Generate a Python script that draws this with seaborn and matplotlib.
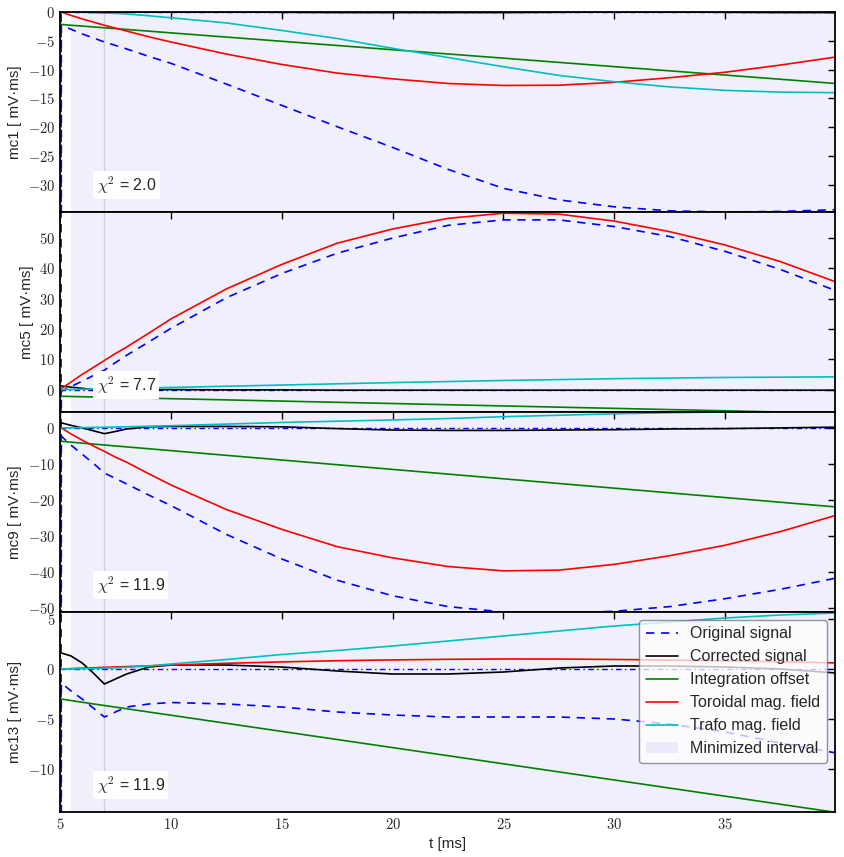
import matplotlib
matplotlib.use("Agg")
import numpy as np
import pandas as pd
import seaborn as sns
import matplotlib.pyplot as plt
import matplotlib.transforms as mtransforms
from matplotlib.patches import Patch
from matplotlib.lines import Line2D
from matplotlib.ticker import FuncFormatter, MultipleLocator

# time axis [ms]
t = [5.06, 5.5, 6, 6.5, 7, 7.5, 8, 9, 10, 12.5, 15, 17.5, 20, 22.5, 25, 27.5, 30, 32.5, 35, 37.5, 40]
# raw signal spike right at the start of the record
t_spike = [5.045, 5.05]
spike = [1000, -1000]

channels = ["mc1", "mc5", "mc9", "mc13"]
chi2 = [2.0, 7.7, 11.9, 11.9]

mc1_original = [-2.3, -3.0, -3.8, -4.5, -5.2, -5.8, -6.4, -7.7, -8.9, -12.5, -16.2, -19.9, -23.5, -27.3, -30.6, -32.6, -33.8, -34.5, -34.7, -34.6, -34.3]
mc1_corrected = [0.1, 0.05, 0, -0.05, -0.1, -0.1, -0.05, 0, 0, 0, -0.05, -0.1, -0.1, -0.1, -0.1, -0.05, 0, 0, -0.05, -0.1, -0.1]
mc1_offset = [-2.16, -2.30, -2.44, -2.59, -2.74, -2.88, -3.03, -3.32, -3.62, -4.35, -5.08, -5.81, -6.55, -7.28, -8.01, -8.74, -9.48, -10.21, -10.94, -11.67, -12.41]
mc1_toroidal = [0, -0.6, -1.2, -1.75, -2.3, -2.8, -3.3, -4.3, -5.2, -7.3, -9.1, -10.6, -11.6, -12.4, -12.75, -12.7, -12.2, -11.4, -10.45, -9.2, -7.8]
mc1_trafo = [0, -0.02, -0.05, -0.1, -0.15, -0.25, -0.35, -0.65, -1.0, -1.9, -3.2, -4.6, -6.3, -7.9, -9.5, -11.0, -12.1, -13.0, -13.6, -13.9, -14.0]

mc5_original = [-0.5, 1.0, 2.8, 4.6, 6.4, 8.9, 11.3, 15.7, 20.2, 30.3, 38.3, 45.0, 50.0, 54.2, 56.0, 56.0, 53.8, 50.5, 45.6, 39.6, 32.6]
mc5_corrected = [1.2, 0.8, 0.4, 0.0, -0.4, -0.3, -0.2, -0.1, 0.0, -0.1, -0.1, -0.2, -0.2, -0.2, -0.2, -0.2, -0.2, -0.2, -0.2, -0.2, -0.2]
mc5_offset = [-2.2, -2.28, -2.36, -2.44, -2.52, -2.6, -2.68, -2.84, -3.0, -3.4, -3.8, -4.2, -4.6, -5.0, -5.4, -5.8, -6.2, -6.6, -7.0, -7.4, -7.8]
mc5_toroidal = [0.3, 2.5, 5.0, 7.3, 9.6, 11.9, 14.0, 18.6, 23.3, 33.2, 41.3, 48.3, 53.0, 56.5, 58.2, 57.9, 55.6, 52.1, 47.7, 42.2, 35.5]
mc5_trafo = [0, 0.05, 0.1, 0.17, 0.24, 0.31, 0.38, 0.52, 0.7, 1.1, 1.5, 1.9, 2.3, 2.65, 3.0, 3.3, 3.6, 3.8, 4.0, 4.1, 4.2]

mc9_original = [-2.3, -4.8, -7.3, -9.8, -12.5, -14.0, -15.5, -18.6, -21.5, -29.5, -36.3, -42.2, -46.5, -49.5, -51.0, -51.3, -50.8, -49.5, -47.3, -44.7, -41.6]
mc9_corrected = [1.4, 0.7, 0.0, -0.8, -1.6, -1.0, -0.3, 0.3, 0.4, 0.4, 0.3, -0.2, -0.6, -0.7, -0.7, -0.6, -0.5, -0.3, -0.2, 0.0, 0.2]
mc9_offset = [-3.7, -3.96, -4.22, -4.48, -4.74, -5.0, -5.26, -5.78, -6.3, -7.6, -8.9, -10.2, -11.5, -12.8, -14.1, -15.4, -16.7, -18.0, -19.3, -20.6, -21.9]
mc9_toroidal = [0, -1.7, -3.4, -5.0, -6.5, -8.1, -9.5, -12.7, -15.8, -22.6, -28.1, -32.9, -36.0, -38.4, -39.6, -39.4, -37.8, -35.4, -32.5, -28.7, -24.2]
mc9_trafo = [0, 0.04, 0.08, 0.13, 0.18, 0.24, 0.3, 0.45, 0.6, 1.05, 1.5, 1.85, 2.2, 2.6, 3.1, 3.5, 3.9, 4.2, 4.45, 4.6, 4.7]

mc13_original = [-1.4, -2.2, -3.0, -3.9, -4.8, -4.3, -3.8, -3.5, -3.35, -3.5, -3.8, -4.3, -4.6, -4.8, -4.8, -4.8, -5.0, -5.5, -6.3, -7.4, -8.4]
mc13_corrected = [1.6, 1.3, 0.6, -0.4, -1.5, -1.0, -0.5, 0.2, 0.4, 0.4, 0.2, -0.2, -0.5, -0.5, -0.3, 0.1, 0.3, 0.3, 0.2, 0.0, -0.4]
mc13_offset = [-3.0, -3.16, -3.32, -3.49, -3.65, -3.81, -3.97, -4.30, -4.62, -5.43, -6.24, -7.05, -7.86, -8.67, -9.48, -10.29, -11.1, -11.91, -12.72, -13.53, -14.34]
mc13_toroidal = [0, 0.04, 0.085, 0.125, 0.165, 0.205, 0.24, 0.32, 0.40, 0.57, 0.71, 0.83, 0.91, 0.97, 1.0, 0.995, 0.955, 0.895, 0.82, 0.725, 0.61]
mc13_trafo = [0, 0.01, 0.03, 0.05, 0.08, 0.12, 0.17, 0.3, 0.5, 0.95, 1.45, 1.85, 2.3, 2.8, 3.3, 3.8, 4.3, 4.7, 5.1, 5.4, 5.6]

ylims = [(-34.7, 0), (-7.4, 58.6), (-51.0, 4.4), (-14.3, 5.7)]
ysteps = [5, 10, 10, 5]

panels = [
    (mc1_original, mc1_corrected, mc1_offset, mc1_toroidal, mc1_trafo),
    (mc5_original, mc5_corrected, mc5_offset, mc5_toroidal, mc5_trafo),
    (mc9_original, mc9_corrected, mc9_offset, mc9_toroidal, mc9_trafo),
    (mc13_original, mc13_corrected, mc13_offset, mc13_toroidal, mc13_trafo),
]

sns.set_style("white")
plt.rcParams["font.family"] = ["Liberation Sans", "DejaVu Sans"]
plt.rcParams["mathtext.fontset"] = "cm"
plt.rcParams["axes.linewidth"] = 1.3
plt.rcParams["axes.edgecolor"] = "black"

fig, axes = plt.subplots(4, 1, sharex=True, figsize=(8.44, 8.57), dpi=100)
plt.subplots_adjust(left=0.0711, right=0.9893, top=0.986, bottom=0.0525, hspace=0)

dash = (0, (5, 4))
for i, ax in enumerate(axes):
    orig, corr, offs, tor, trafo = panels[i]

    # minimized interval + marker of the fit start
    ax.axvspan(5.5, 40, color="lavender", alpha=0.6, lw=0, zorder=0)
    ax.axvline(7, color="#cfd0dc", lw=1, zorder=0.5)
    ax.axhline(0, color="b", ls=(0, (4, 2.5, 1, 2.5)), lw=1)

    df = pd.DataFrame({"t": t_spike + t, "v": spike + orig})
    sns.lineplot(data=df, x="t", y="v", ax=ax, color="b", lw=1.2, linestyle=dash, estimator=None, sort=False)
    sns.lineplot(x=t, y=corr, ax=ax, color="k", lw=1.2, estimator=None)
    sns.lineplot(x=t, y=offs, ax=ax, color="g", lw=1.2, estimator=None)
    sns.lineplot(x=t, y=tor, ax=ax, color="r", lw=1.2, estimator=None)
    sns.lineplot(x=t, y=trafo, ax=ax, color="c", lw=1.2, estimator=None)

    ax.set_xlim(5, 39.95)
    ax.set_ylim(*ylims[i])
    ax.yaxis.set_major_locator(MultipleLocator(ysteps[i]))
    ax.xaxis.set_major_locator(MultipleLocator(5))
    fmt = FuncFormatter(lambda v, _: "$%g$" % v)
    ax.yaxis.set_major_formatter(fmt)
    ax.xaxis.set_major_formatter(fmt)
    ax.tick_params(which="both", direction="in", top=True, right=True, length=5, width=1,
                   color="black", labelsize=10.5)
    ax.set_ylabel(channels[i] + " [ mV·ms]", fontsize=11)
    ax.set_xlabel("")

    trans = mtransforms.blended_transform_factory(ax.transData, ax.transAxes)
    ax.text(6.65, 0.135, r"$\chi^2$ = %.1f" % chi2[i], transform=trans, fontsize=11.5,
            va="center", ha="left", bbox=dict(facecolor="white", edgecolor="none", pad=2.5))

axes[-1].set_xlabel("t [ms]", fontsize=11)

handles = [
    Line2D([], [], color="b", lw=1.2, linestyle=dash),
    Line2D([], [], color="k", lw=1.2),
    Line2D([], [], color="g", lw=1.2),
    Line2D([], [], color="r", lw=1.2),
    Line2D([], [], color="c", lw=1.2),
    Patch(facecolor="lavender", alpha=0.8, edgecolor="none"),
]
labels = ["Original signal", "Corrected signal", "Integration offset",
          "Toroidal mag. field", "Trafo mag. field", "Minimized interval"]
leg = axes[-1].legend(handles, labels, loc="upper right", fontsize=11.5, fancybox=True,
                      framealpha=0.75, edgecolor="0.45")
leg.get_frame().set_linewidth(1.0)

fig.savefig("out.png", dpi=100)
